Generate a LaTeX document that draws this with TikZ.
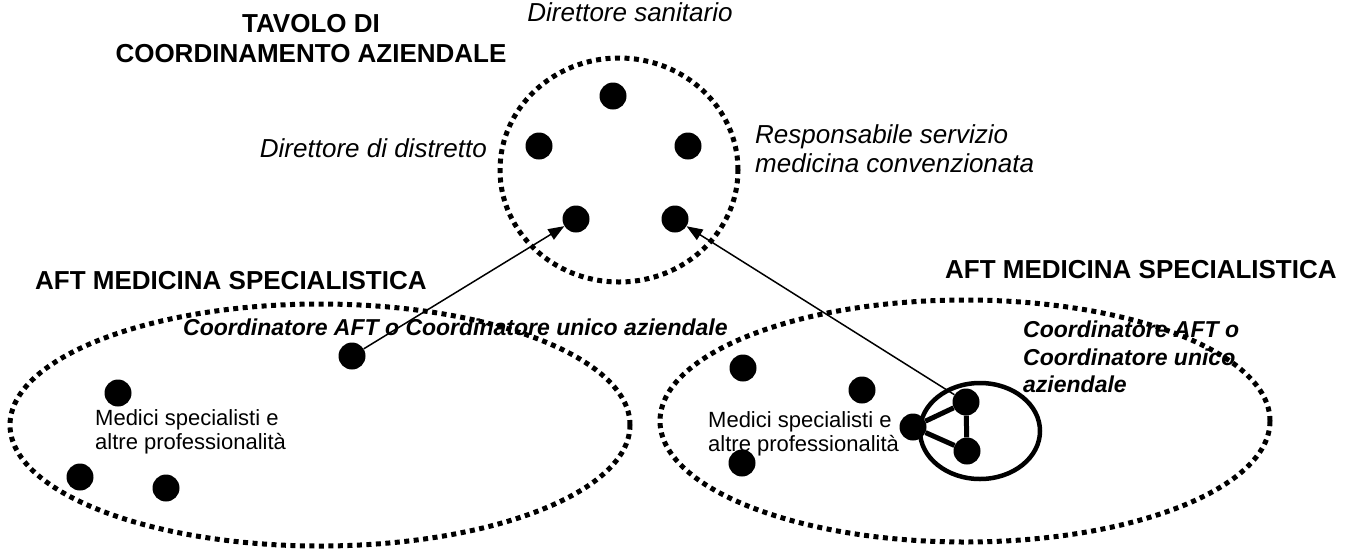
\documentclass[tikz,border=0pt]{standalone}
\usepackage{fontspec}
\setmainfont{Liberation Sans}
\usetikzlibrary{shapes.geometric,arrows.meta}
\tikzset{
  dotline/.style={line width=5pt, dash pattern=on 5pt off 4.5pt},
  grp/.style={ellipse, draw, dotline, inner sep=0pt},
  dot/.style={circle, fill=black, inner sep=0pt, minimum size=27pt},
  arr/.style={line width=1.5pt, -{Triangle[length=16pt,width=12pt]}},
  ttl/.style={font=\bfseries\fontsize{26}{30}\selectfont, inner sep=0pt},
  role/.style={font=\itshape\fontsize{26}{29}\selectfont, inner sep=0pt},
  coord/.style={font=\bfseries\itshape\fontsize{23}{27.5}\selectfont, inner sep=0pt},
  med/.style={font=\fontsize{22}{23.5}\selectfont, inner sep=0pt, align=left}
}
\begin{document}
\begin{tikzpicture}[x=1pt,y=-1pt]
\useasboundingbox (0,0) rectangle (1345,550);
% groups
\node[grp, minimum width=238pt, minimum height=224pt] (tavolo) at (619,170) {};
\node[grp, minimum width=620pt, minimum height=242pt] (aftL) at (320,425) {};
\node[grp, minimum width=610pt, minimum height=242pt] (aftR) at (965,421) {};
\node[draw, ellipse, line width=4.5pt, minimum width=120pt, minimum height=96pt, inner sep=0pt] (core) at (980,431) {};
% top dots
\node[dot] (t1) at (613,96) {};
\node[dot] (t2) at (539,146) {};
\node[dot] (t3) at (688,146) {};
\node[dot] (t4) at (576,219) {};
\node[dot] (t5) at (675,219) {};
% left dots
\node[dot] (l0) at (352,356) {};
\node[dot] (l1) at (118,393) {};
\node[dot] (l2) at (80,477) {};
\node[dot] (l3) at (166,488) {};
% right dots
\node[dot] (r1) at (743,368) {};
\node[dot] (r2) at (862,390) {};
\node[dot] (r3) at (742,463) {};
% triangle
\node[dot] (c1) at (966,402) {};
\node[dot] (c2) at (913,427) {};
\node[dot] (c3) at (967,451) {};
\draw[line width=5pt] (c1) -- (c2);
\draw[line width=5pt] (c2) -- (c3);
\draw[line width=5pt] (c3) -- (c1);
% arrows
\draw[arr] (l0) -- (t4);
\draw[arr] (c1) -- (t5);
% texts
\node[ttl, anchor=base] (title1) at (311,32) {TAVOLO DI};
\node[ttl, anchor=base] (title2) at (311,62) {COORDINAMENTO AZIENDALE};
\node[role, anchor=base] (dirsan) at (630,21) {Direttore sanitario};
\node[role, anchor=base east] (dirdis) at (487,157) {Direttore di distretto};
\node[role, anchor=base west] (resp1) at (755,143) {Responsabile servizio};
\node[role, anchor=base west] (resp2) at (755,172) {medicina convenzionata};
\node[ttl, anchor=base west] (aftLt) at (35,289) {AFT MEDICINA SPECIALISTICA};
\node[ttl, anchor=base west] (aftRt) at (945,278) {AFT MEDICINA SPECIALISTICA};
\node[coord, anchor=base west] (coordL) at (183,335) {Coordinatore AFT o Coordinatore unico aziendale};
\node[coord, anchor=base west] (coordR1) at (1023,337) {Coordinatore AFT o};
\node[coord, anchor=base west] (coordR2) at (1023,365) {Coordinatore unico};
\node[coord, anchor=base west] (coordR3) at (1023,392) {aziendale};
\node[med, anchor=base west] (medL1) at (95,425) {Medici specialisti e};
\node[med, anchor=base west] (medL2) at (95,449) {altre professionalità};
\node[med, anchor=base west] (medR1) at (708,427) {Medici specialisti e};
\node[med, anchor=base west] (medR2) at (708,451) {altre professionalità};
\end{tikzpicture}
\end{document}
